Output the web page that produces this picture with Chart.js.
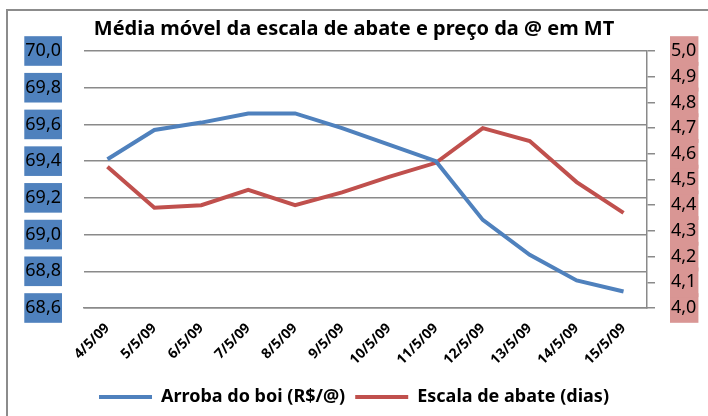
<!DOCTYPE html>
<html>
<head>
<meta charset="utf-8">
<script src="https://cdn.jsdelivr.net/npm/chart.js@4/dist/chart.umd.min.js"></script>
<style>
  body { margin: 0; background: #fff; }
  #wrap { width: 708px; height: 416px; }
</style>
</head>
<body>
<div id="wrap"><canvas id="mediaChart" width="708" height="416"></canvas></div>
<script>
var dias = ['4/5/09', '5/5/09', '6/5/09', '7/5/09', '8/5/09', '9/5/09', '10/5/09', '11/5/09', '12/5/09', '13/5/09', '14/5/09', '15/5/09'];
var arroba = [69.41, 69.57, 69.61, 69.66, 69.66, 69.58, 69.49, 69.40, 69.08, 68.89, 68.75, 68.69];
var escala = [4.55, 4.39, 4.40, 4.46, 4.40, 4.45, 4.51, 4.565, 4.70, 4.65, 4.49, 4.37];
var ticksArroba = [68.6, 70.0, 0.2];
var ticksEscala = [4.0, 5.0, 0.1];

var fonte = "'Noto Sans', 'Open Sans', sans-serif";
var cinza = '#8a8a8a';

// moldura cinza por baixo de tudo
var moldura = {
  id: 'moldura',
  beforeDraw: function(chart) {
    var ctx = chart.ctx;
    ctx.save();
    ctx.fillStyle = '#fff';
    ctx.fillRect(0, 0, chart.width, chart.height);
    ctx.strokeStyle = '#8c8c8c';
    ctx.lineWidth = 2;
    ctx.strokeRect(7, 10, 740, 440);
    ctx.restore();
  }
};

function virgula(v) {
  return v.toFixed(1).replace('.', ',');
}

var ctx = document.getElementById('mediaChart');
var chart = new Chart(ctx, {
  type: 'line',
  data: {
    labels: dias,
    datasets: [
      {
        label: 'Arroba do boi (R$/@)',
        data: arroba,
        borderColor: '#4f81bd',
        backgroundColor: '#4f81bd',
        borderWidth: 4,
        pointRadius: 0,
        yAxisID: 'y'
      },
      {
        label: 'Escala de abate (dias)',
        data: escala,
        borderColor: '#c0504d',
        backgroundColor: '#c0504d',
        borderWidth: 4,
        pointRadius: 0,
        yAxisID: 'y1'
      }
    ]
  },
  options: {
    responsive: false,
    animation: false,
    layout: { padding: { left: 0, right: 0, top: 0, bottom: 0 } },
    plugins: {
      title: {
        display: true,
        text: 'Média móvel da escala de abate e preço da @ em MT',
        color: '#000',
        font: { family: fonte, size: 20, weight: 'bold' },
        padding: { top: 17, bottom: 10 }
      },
      legend: {
        position: 'bottom',
        labels: {
          color: '#000',
          font: { family: fonte, size: 18, weight: 'bold' },
          boxWidth: 53,
          boxHeight: 4,
          padding: 10,
          generateLabels: function(chart) {
            var items = Chart.defaults.plugins.legend.labels.generateLabels(chart);
            items.forEach(function(it) {
              it.lineWidth = 0;
              it.fillStyle = it.strokeStyle;
            });
            return items;
          }
        }
      },
      tooltip: { enabled: false }
    },
    scales: {
      x: {
        offset: true,
        afterFit: function(s) { s.height = 70; },
        grid: { display: false },
        border: { display: true, color: cinza, width: 1.5 },
        ticks: {
          color: '#000',
          font: { family: fonte, size: 14, weight: 'bold' },
          maxRotation: 45,
          minRotation: 45,
          autoSkip: false,
          padding: 4
        }
      },
      y: {
        position: 'left',
        min: ticksArroba[0],
        max: ticksArroba[1],
        afterFit: function(s) { s.width = 84; },
        grid: { color: cinza, lineWidth: 1.5, drawTicks: false },
        border: { display: false },
        ticks: {
          stepSize: ticksArroba[2],
          padding: 23,
          color: '#000',
          font: { family: fonte, size: 18 },
          callback: function(v) { return virgula(v); },
          showLabelBackdrop: true,
          backdropColor: '#4f81bd',
          backdropPadding: { top: 4, bottom: 4, left: 1, right: 1 }
        }
      },
      y1: {
        position: 'right',
        min: ticksEscala[0],
        max: ticksEscala[1],
        afterFit: function(s) { s.width = 61; },
        grid: { drawOnChartArea: false, color: cinza, lineWidth: 1.5, tickLength: 8 },
        border: { display: true, color: cinza, width: 1.5 },
        ticks: {
          stepSize: ticksEscala[2],
          padding: 16,
          color: '#000',
          font: { family: fonte, size: 18 },
          callback: function(v) { return virgula(v); },
          showLabelBackdrop: true,
          backdropColor: '#d99694',
          backdropPadding: { top: 4, bottom: 4, left: 1, right: 2 }
        }
      }
    }
  },
  plugins: [moldura]
});
</script>
</body>
</html>
